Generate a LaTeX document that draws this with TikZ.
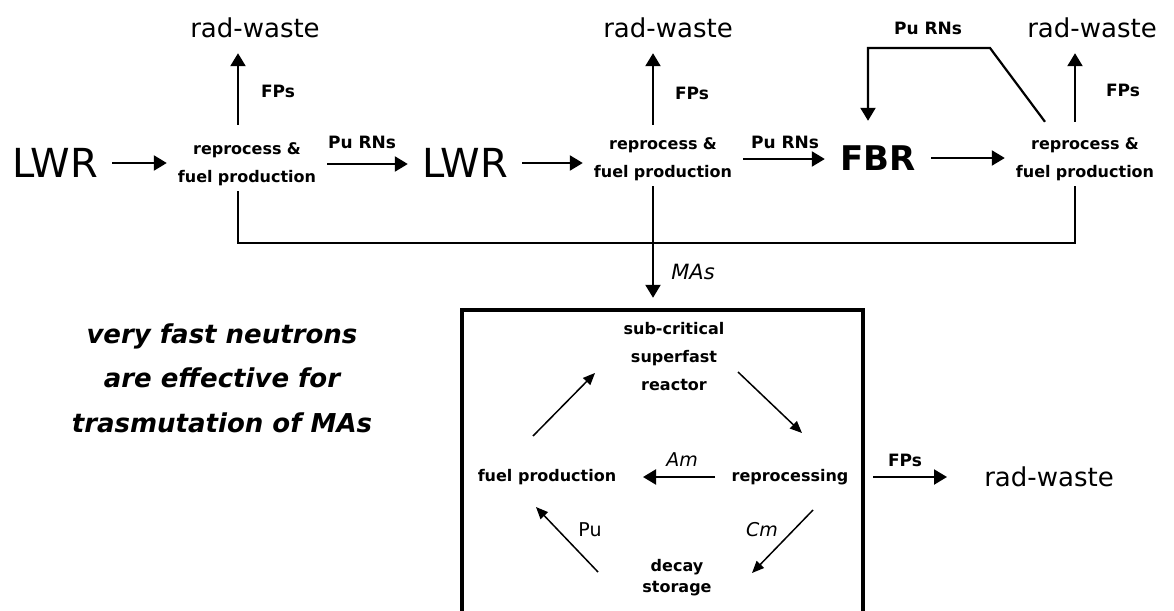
\documentclass[tikz,border=0pt]{standalone}
\usepackage{fontspec}
\setmainfont{DejaVu Sans}
\usetikzlibrary{arrows.meta,calc}
\begin{document}
\begin{tikzpicture}[x=1pt,y=-1pt,
 arr/.style={line width=2.2pt,-{Triangle[length=13pt,width=15pt]}},
 ln/.style={line width=2.2pt},
 tarr/.style={line width=1.5pt,-{Triangle[length=12pt,width=10pt]}},
 big/.style={font=\fontsize{40}{40}\selectfont, inner sep=0, minimum width=114pt, minimum height=70pt},
 rp/.style={font=\bfseries\fontsize{16}{28}\selectfont, align=center, text width=160pt, inner sep=0, minimum height=66pt},
 rw/.style={font=\fontsize{26}{26}\selectfont, inner sep=0, minimum height=50pt},
 lab/.style={font=\bfseries\fontsize{17}{18}\selectfont, inner sep=0},
 ilab/.style={font=\itshape\fontsize{19}{19}\selectfont, inner sep=0},
 inner/.style={font=\bfseries\fontsize{16}{28}\selectfont, align=center, inner sep=0},
]
\useasboundingbox[fill=white] (0,0) rectangle (1174,610);

% top row
\node[big] (lwr1) at (55,163) {LWR};
\node[rp] (rp1) at (247,164) {reprocess \&\\fuel production};
\node[big] (lwr2) at (465,163) {LWR};
\node[rp] (rp2) at (663,159) {reprocess \&\\fuel production};
\node[big, font=\bfseries\fontsize{34}{34}\selectfont, minimum width=106pt, minimum height=74pt] (fbr) at (878,158) {FBR};
\node[rp] (rp3) at (1085,159) {reprocess \&\\fuel production};

\node[rw] (rw1) at (255,28) {rad-waste};
\node[rw] (rw2) at (668,28) {rad-waste};
\node[rw] (rw3) at (1092,28) {rad-waste};

\node[lab] (fps1) at (278,91) {FPs};
\node[lab] (fps2) at (692,93) {FPs};
\node[lab] (fps3) at (1123,90) {FPs};
\node[lab] (pu1) at (362,142) {Pu RNs};
\node[lab] (pu2) at (785,142) {Pu RNs};
\node[lab] (pu3) at (928,28) {Pu RNs};
\node[ilab, font=\itshape\fontsize{21}{21}\selectfont] (mas) at (693,272) {MAs};

% horizontal arrows
\draw[arr] (lwr1.east) -- (lwr1.east -| rp1.west);
\draw[arr] (rp1.east) -- (rp1.east -| lwr2.west);
\draw[arr] (lwr2.east) -- (lwr2.east -| rp2.west);
\draw[arr] (rp2.east) -- (rp2.east -| fbr.west);
\draw[arr] (fbr.east) -- (fbr.east -| rp3.west);

% FPs up arrows
\coordinate (f1) at ($(rp1.north)+(-9,-6)$);
\coordinate (f2) at ($(rp2.north)+(-10,-1)$);
\coordinate (f3) at ($(rp3.north)+(-10,-4)$);
\draw[arr] (f1) -- (f1 |- rw1.south);
\draw[arr] (f2) -- (f2 |- rw2.south);
\draw[arr] (f3) -- (f3 |- rw3.south);

% Pu RNs feedback
\coordinate (fbk1) at (990,48);
\coordinate (fbk2) at (868,48);
\draw[arr] ([xshift=-40pt,yshift=4pt]rp3.north) -- (fbk1) -- (fbk2) -- (fbk2 |- fbr.north);

% bus line
\coordinate (b1) at ($(rp1.south)+(-9,-6)$);
\coordinate (b2) at ($(rp2.south)+(-10,-6)$);
\coordinate (b3) at ($(rp3.south)+(-10,-6)$);
\coordinate (bus) at (0,243);
\draw[ln] (b1) -- (b1 |- bus) -- (b3 |- bus) -- (b3);

% MA box
\node[minimum width=401pt, minimum height=320pt, inner sep=0] (mabox) at (662.5,470) {};
\draw[line width=3.5pt] (mabox.south west) |- (mabox.north east) -- (mabox.south east);
\draw[arr,shorten >=12pt] (b2) -- (b2 |- mabox.north);

% inside box
\node[inner] (react) at (674,357) {sub-critical\\superfast\\reactor};
\node[inner] (fuel) at (547,477) {fuel production};
\node[inner] (repr) at (790,477) {reprocessing};
\node[inner, font=\bfseries\fontsize{16}{21}\selectfont] (decay) at (677,578) {decay\\storage};
\node[ilab] (am) at (682,460) {Am};
\node[ilab] (cm) at (762,530) {Cm};
\node[ilab, font=\fontsize{19}{19}\selectfont] (pu) at (590,530) {Pu};

\draw[tarr] ([xshift=64pt,yshift=-15pt]react.center) -- ([xshift=12pt,yshift=44pt]repr.center);
\draw[tarr] ([xshift=-14pt,yshift=41pt]fuel.center) -- ([xshift=-79pt,yshift=-16pt]react.center);
\draw[arr] ([xshift=-75pt]repr.center) -- ([xshift=96pt]fuel.center);
\draw[tarr] ([xshift=23pt,yshift=-33pt]repr.center) -- ([xshift=75pt,yshift=5pt]decay.center);
\draw[tarr] ([xshift=-79pt,yshift=6pt]decay.center) -- ([xshift=-11pt,yshift=-30pt]fuel.center);

% out
\node[rw] (rw4) at (1049,477) {rad-waste};
\node[lab] (fps4) at (905,460) {FPs};
\draw[arr] ([xshift=83pt]repr.center) -- ([xshift=-102pt]rw4.center);

% note
\node[font=\bfseries\itshape\fontsize{26}{44.5}\selectfont, align=center, inner sep=0] (note) at (222,378) {very fast neutrons\\are effective for\\trasmutation of MAs};
\end{tikzpicture}
\end{document}
